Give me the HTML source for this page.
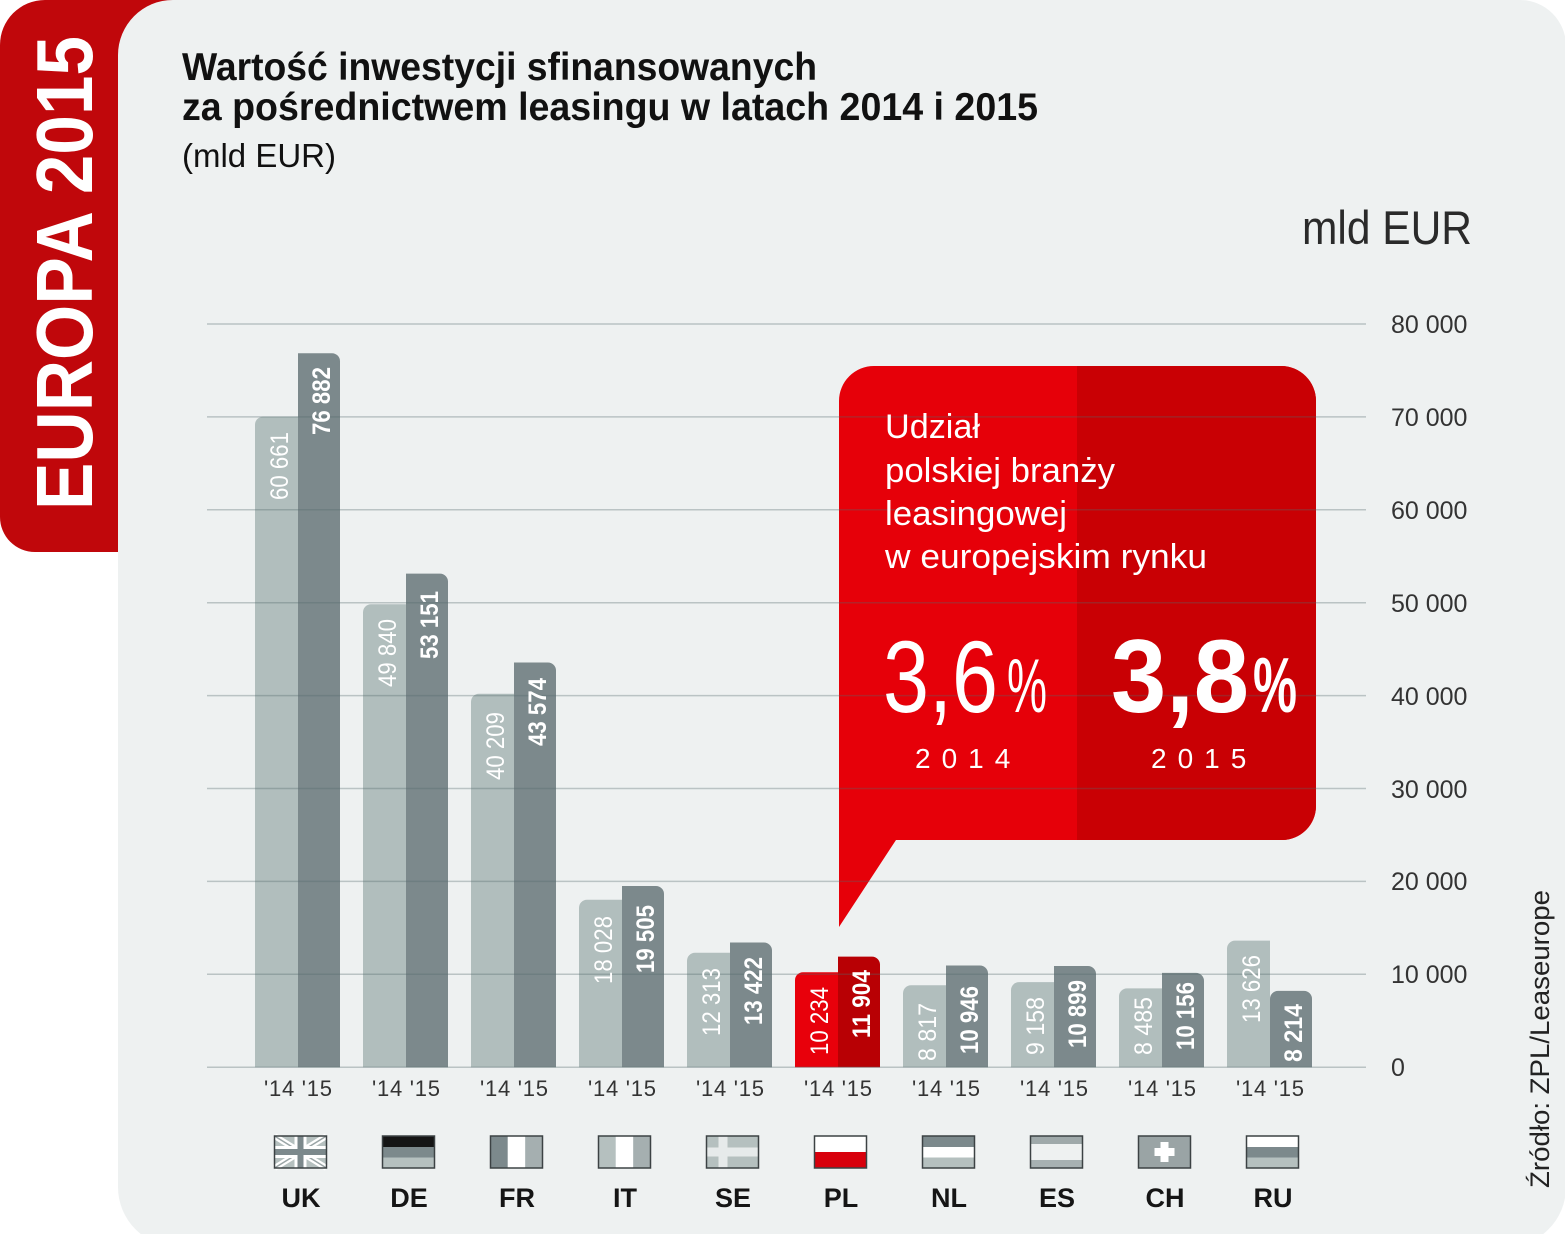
<!DOCTYPE html>
<html><head><meta charset="utf-8"><style>
html,body{margin:0;padding:0;background:#fff;}
svg{display:block;}
text{font-family:"Liberation Sans",sans-serif;}
</style></head><body>
<svg width="1565" height="1234" viewBox="0 0 1565 1234" xmlns="http://www.w3.org/2000/svg">
<defs>
<clipPath id="rightHalf"><rect x="1077" y="300" width="300" height="700"/></clipPath>
</defs>
<rect width="1565" height="1234" fill="#ffffff"/>
<!-- red tab -->
<path d="M45,0 H250 V552 H35 A35,35 0 0 1 0,517 V45 A45,45 0 0 1 45,0 Z" fill="#c0070b"/>
<!-- panel -->
<path d="M173,0 H1520 A46,46 0 0 1 1566,46 V1187 A60,60 0 0 1 1506,1247 H178 A60,60 0 0 1 118,1187 V55 A55,55 0 0 1 173,0 Z" fill="#eef1f1"/>
<text transform="translate(92,510) rotate(-90)" font-size="80" font-weight="bold" fill="#fff" textLength="474" lengthAdjust="spacingAndGlyphs">EUROPA 2015</text>

<!-- titles -->
<text x="182" y="80" font-size="39" font-weight="bold" fill="#111" textLength="635" lengthAdjust="spacingAndGlyphs">Wartość inwestycji sfinansowanych</text>
<text x="182" y="120" font-size="39" font-weight="bold" fill="#111" textLength="856" lengthAdjust="spacingAndGlyphs">za pośrednictwem leasingu w latach 2014 i 2015</text>
<text x="182" y="167" font-size="33" fill="#111" textLength="154" lengthAdjust="spacingAndGlyphs">(mld EUR)</text>
<text x="1302" y="244" font-size="47" fill="#2a2a2a" textLength="170" lengthAdjust="spacingAndGlyphs">mld EUR</text>

<!-- bars light -->
<g fill="#b1bebd">
<path d="M255,1067.2 V424.7 A8,8 0 0 1 263,416.7 H298 V1067.2Z"/>
<path d="M363,1067.2 V612.3 A8,8 0 0 1 371,604.3 H406 V1067.2Z"/>
<path d="M471,1067.2 V701.8 A8,8 0 0 1 479,693.8 H514 V1067.2Z"/>
<path d="M579,1067.2 V907.8 A8,8 0 0 1 587,899.8 H622 V1067.2Z"/>
<path d="M687,1067.2 V960.8 A8,8 0 0 1 695,952.8 H730 V1067.2Z"/>
<path d="M903,1067.2 V993.3 A8,8 0 0 1 911,985.3 H946 V1067.2Z"/>
<path d="M1011,1067.2 V990.1 A8,8 0 0 1 1019,982.1 H1054 V1067.2Z"/>
<path d="M1119,1067.2 V996.4 A8,8 0 0 1 1127,988.4 H1162 V1067.2Z"/>
<path d="M1227,1067.2 V948.6 A8,8 0 0 1 1235,940.6 H1270 V1067.2Z"/>
</g>
<path d="M795,1067.2 V980.2 A8,8 0 0 1 803,972.2 H838 V1067.2Z" fill="#e8000b"/>
<!-- bars dark -->
<g fill="#7c898c">
<path d="M298,1067.2 V353.2 H332 A8,8 0 0 1 340,361.2 V1067.2Z"/>
<path d="M406,1067.2 V573.6 H440 A8,8 0 0 1 448,581.6 V1067.2Z"/>
<path d="M514,1067.2 V662.5 H548 A8,8 0 0 1 556,670.5 V1067.2Z"/>
<path d="M622,1067.2 V886 H656 A8,8 0 0 1 664,894 V1067.2Z"/>
<path d="M730,1067.2 V942.5 H764 A8,8 0 0 1 772,950.5 V1067.2Z"/>
<path d="M946,1067.2 V965.5 H980 A8,8 0 0 1 988,973.5 V1067.2Z"/>
<path d="M1054,1067.2 V966 H1088 A8,8 0 0 1 1096,974 V1067.2Z"/>
<path d="M1162,1067.2 V972.9 H1196 A8,8 0 0 1 1204,980.9 V1067.2Z"/>
<path d="M1270,1067.2 V998.9 A8,8 0 0 1 1278,990.9 H1304 A8,8 0 0 1 1312,998.9 V1067.2Z"/>
</g>
<path d="M838,1067.2 V956.6 H872 A8,8 0 0 1 880,964.6 V1067.2Z" fill="#b80004"/>

<!-- callout -->
<path d="M839,927 V401 A35,35 0 0 1 874,366 H1281 A35,35 0 0 1 1316,401 V806 A34,34 0 0 1 1282,840 H896 Z" fill="#e60009"/>
<path d="M839,927 V401 A35,35 0 0 1 874,366 H1281 A35,35 0 0 1 1316,401 V806 A34,34 0 0 1 1282,840 H896 Z" fill="#c90004" clip-path="url(#rightHalf)"/>

<!-- gridlines -->
<g stroke="#53666a" stroke-opacity="0.33" stroke-width="1.5">
<line x1="207" x2="1366" y1="324" y2="324"/>
<line x1="207" x2="1366" y1="416.9" y2="416.9"/>
<line x1="207" x2="1366" y1="509.8" y2="509.8"/>
<line x1="207" x2="1366" y1="602.7" y2="602.7"/>
<line x1="207" x2="1366" y1="695.6" y2="695.6"/>
<line x1="207" x2="1366" y1="788.5" y2="788.5"/>
<line x1="207" x2="1366" y1="881.4" y2="881.4"/>
<line x1="207" x2="1366" y1="974.3" y2="974.3"/>
<line x1="207" x2="1366" y1="1067.2" y2="1067.2"/>
</g>

<!-- callout text -->
<g fill="#fff" font-size="34">
<text x="885" y="438" textLength="95" lengthAdjust="spacingAndGlyphs">Udział</text>
<text x="885" y="482" textLength="230" lengthAdjust="spacingAndGlyphs">polskiej branży</text>
<text x="885" y="525" textLength="182" lengthAdjust="spacingAndGlyphs">leasingowej</text>
<text x="885" y="568" textLength="322" lengthAdjust="spacingAndGlyphs">w europejskim rynku</text>
</g>
<text x="883" y="712" font-size="102" fill="#fff" textLength="115" lengthAdjust="spacingAndGlyphs">3,6</text>
<text x="1007" y="712" font-size="76" fill="#fff" textLength="40" lengthAdjust="spacingAndGlyphs">%</text>
<text x="1111" y="712" font-size="104" font-weight="bold" fill="#fff" textLength="138" lengthAdjust="spacingAndGlyphs">3,8</text>
<text x="1253" y="712" font-size="78" font-weight="bold" fill="#fff" textLength="44" lengthAdjust="spacingAndGlyphs">%</text>
<text x="915" y="768" font-size="28" fill="#fff" letter-spacing="11">2014</text>
<text x="1151" y="768" font-size="28" fill="#fff" letter-spacing="11">2015</text>

<!-- y axis labels -->
<g font-size="25" fill="#333">
<text x="1391" y="333">80 000</text>
<text x="1391" y="426">70 000</text>
<text x="1391" y="519">60 000</text>
<text x="1391" y="612">50 000</text>
<text x="1391" y="705">40 000</text>
<text x="1391" y="798">30 000</text>
<text x="1391" y="890">20 000</text>
<text x="1391" y="983">10 000</text>
<text x="1391" y="1076">0</text>
</g>

<text transform="translate(1549,1188) rotate(-90)" font-size="27" fill="#222" textLength="298" lengthAdjust="spacingAndGlyphs">Źródło: ZPL/Leaseurope</text>

<!-- bar value labels -->
<g fill="#fff" font-size="25" text-anchor="end">
<text transform="translate(288,432) rotate(-90)" textLength="68" lengthAdjust="spacingAndGlyphs">60 661</text>
<text transform="translate(396,619) rotate(-90)" textLength="68" lengthAdjust="spacingAndGlyphs">49 840</text>
<text transform="translate(504,712) rotate(-90)" textLength="68" lengthAdjust="spacingAndGlyphs">40 209</text>
<text transform="translate(612,916) rotate(-90)" textLength="68" lengthAdjust="spacingAndGlyphs">18 028</text>
<text transform="translate(720,968) rotate(-90)" textLength="68" lengthAdjust="spacingAndGlyphs">12 313</text>
<text transform="translate(828,987) rotate(-90)" textLength="68" lengthAdjust="spacingAndGlyphs">10 234</text>
<text transform="translate(936,1003) rotate(-90)" textLength="58" lengthAdjust="spacingAndGlyphs">8 817</text>
<text transform="translate(1044,997) rotate(-90)" textLength="58" lengthAdjust="spacingAndGlyphs">9 158</text>
<text transform="translate(1152,997) rotate(-90)" textLength="58" lengthAdjust="spacingAndGlyphs">8 485</text>
<text transform="translate(1260,955) rotate(-90)" textLength="68" lengthAdjust="spacingAndGlyphs">13 626</text>
</g>
<g fill="#fff" font-size="25" font-weight="bold" text-anchor="end">
<text transform="translate(330,367) rotate(-90)" textLength="68" lengthAdjust="spacingAndGlyphs">76 882</text>
<text transform="translate(438,591) rotate(-90)" textLength="68" lengthAdjust="spacingAndGlyphs">53 151</text>
<text transform="translate(546,678) rotate(-90)" textLength="68" lengthAdjust="spacingAndGlyphs">43 574</text>
<text transform="translate(654,905) rotate(-90)" textLength="68" lengthAdjust="spacingAndGlyphs">19 505</text>
<text transform="translate(762,957) rotate(-90)" textLength="68" lengthAdjust="spacingAndGlyphs">13 422</text>
<text transform="translate(870,970) rotate(-90)" textLength="68" lengthAdjust="spacingAndGlyphs">11 904</text>
<text transform="translate(978,986) rotate(-90)" textLength="68" lengthAdjust="spacingAndGlyphs">10 946</text>
<text transform="translate(1086,980) rotate(-90)" textLength="68" lengthAdjust="spacingAndGlyphs">10 899</text>
<text transform="translate(1194,982) rotate(-90)" textLength="68" lengthAdjust="spacingAndGlyphs">10 156</text>
<text transform="translate(1302,1004) rotate(-90)" textLength="58" lengthAdjust="spacingAndGlyphs">8 214</text>
</g>

<!-- tick labels -->
<g font-size="22" fill="#333" text-anchor="middle">
<text x="298" y="1096" textLength="68" lengthAdjust="spacing">'14 '15</text>
<text x="406" y="1096" textLength="68" lengthAdjust="spacing">'14 '15</text>
<text x="514" y="1096" textLength="68" lengthAdjust="spacing">'14 '15</text>
<text x="622" y="1096" textLength="68" lengthAdjust="spacing">'14 '15</text>
<text x="730" y="1096" textLength="68" lengthAdjust="spacing">'14 '15</text>
<text x="838" y="1096" textLength="68" lengthAdjust="spacing">'14 '15</text>
<text x="946" y="1096" textLength="68" lengthAdjust="spacing">'14 '15</text>
<text x="1054" y="1096" textLength="68" lengthAdjust="spacing">'14 '15</text>
<text x="1162" y="1096" textLength="68" lengthAdjust="spacing">'14 '15</text>
<text x="1270" y="1096" textLength="68" lengthAdjust="spacing">'14 '15</text>
</g>

<!-- flags -->
<g transform="translate(274.5,1136)">
<rect width="52" height="32" fill="#b5c0bf"/>
<path d="M0,0 L52,32 M52,0 L0,32" stroke="#fff" stroke-width="6"/>
<path d="M0,0 L52,32 M52,0 L0,32" stroke="#9aa5a6" stroke-width="1.5"/>
<rect x="20" width="12" height="32" fill="#fff"/><rect y="10" width="52" height="12" fill="#fff"/>
<rect x="23" width="6" height="32" fill="#7c898c"/><rect y="13" width="52" height="6" fill="#7c898c"/>
<rect width="52" height="32" fill="none" stroke="#3c4244" stroke-width="1.5"/>
</g>
<g transform="translate(382.5,1136)">
<rect width="52" height="11" fill="#151515"/>
<rect y="11" width="52" height="10.5" fill="#7c898c"/>
<rect y="21.5" width="52" height="10.5" fill="#b5c0bf"/>
<rect width="52" height="32" fill="none" stroke="#3c4244" stroke-width="1.5"/>
</g>
<g transform="translate(490.5,1136)">
<rect width="17.3" height="32" fill="#7c898c"/>
<rect x="17.3" width="17.4" height="32" fill="#fff"/>
<rect x="34.7" width="17.3" height="32" fill="#a5afb0"/>
<rect width="52" height="32" fill="none" stroke="#3c4244" stroke-width="1.5"/>
</g>
<g transform="translate(598.5,1136)">
<rect width="17.3" height="32" fill="#b5c0bf"/>
<rect x="17.3" width="17.4" height="32" fill="#fff"/>
<rect x="34.7" width="17.3" height="32" fill="#a5afb0"/>
<rect width="52" height="32" fill="none" stroke="#3c4244" stroke-width="1.5"/>
</g>
<g transform="translate(706.5,1136)">
<rect width="52" height="32" fill="#b5c0bf"/>
<rect x="12" width="9" height="32" fill="#e6eaea"/>
<rect y="11.5" width="52" height="9" fill="#e6eaea"/>
<rect width="52" height="32" fill="none" stroke="#3c4244" stroke-width="1.5"/>
</g>
<g transform="translate(814.5,1136)">
<rect width="52" height="16" fill="#fff"/>
<rect y="16" width="52" height="16" fill="#d8000c"/>
<rect width="52" height="32" fill="none" stroke="#3c4244" stroke-width="1.5"/>
</g>
<g transform="translate(922.5,1136)">
<rect width="52" height="11" fill="#7c898c"/>
<rect y="11" width="52" height="10.5" fill="#fff"/>
<rect y="21.5" width="52" height="10.5" fill="#b5c0bf"/>
<rect width="52" height="32" fill="none" stroke="#3c4244" stroke-width="1.5"/>
</g>
<g transform="translate(1030.5,1136)">
<rect width="52" height="8" fill="#9fa9aa"/>
<rect y="8" width="52" height="16" fill="#eef1f1"/>
<rect y="24" width="52" height="8" fill="#a7b1b2"/>
<rect width="52" height="32" fill="none" stroke="#3c4244" stroke-width="1.5"/>
</g>
<g transform="translate(1138.5,1136)">
<rect width="52" height="32" fill="#9aa4a5"/>
<rect x="22" y="6" width="8" height="20" fill="#fff"/>
<rect x="16" y="12" width="20" height="8" fill="#fff"/>
<rect width="52" height="32" fill="none" stroke="#3c4244" stroke-width="1.5"/>
</g>
<g transform="translate(1246.5,1136)">
<rect width="52" height="11" fill="#fff"/>
<rect y="11" width="52" height="10.5" fill="#7c898c"/>
<rect y="21.5" width="52" height="10.5" fill="#b5c0bf"/>
<rect width="52" height="32" fill="none" stroke="#3c4244" stroke-width="1.5"/>
</g>

<!-- country labels -->
<g font-size="27" font-weight="bold" fill="#151515" text-anchor="middle">
<text x="301" y="1207">UK</text>
<text x="409" y="1207">DE</text>
<text x="517" y="1207">FR</text>
<text x="625" y="1207">IT</text>
<text x="733" y="1207">SE</text>
<text x="841" y="1207">PL</text>
<text x="949" y="1207">NL</text>
<text x="1057" y="1207">ES</text>
<text x="1165" y="1207">CH</text>
<text x="1273" y="1207">RU</text>
</g>
</svg>
</body></html>
